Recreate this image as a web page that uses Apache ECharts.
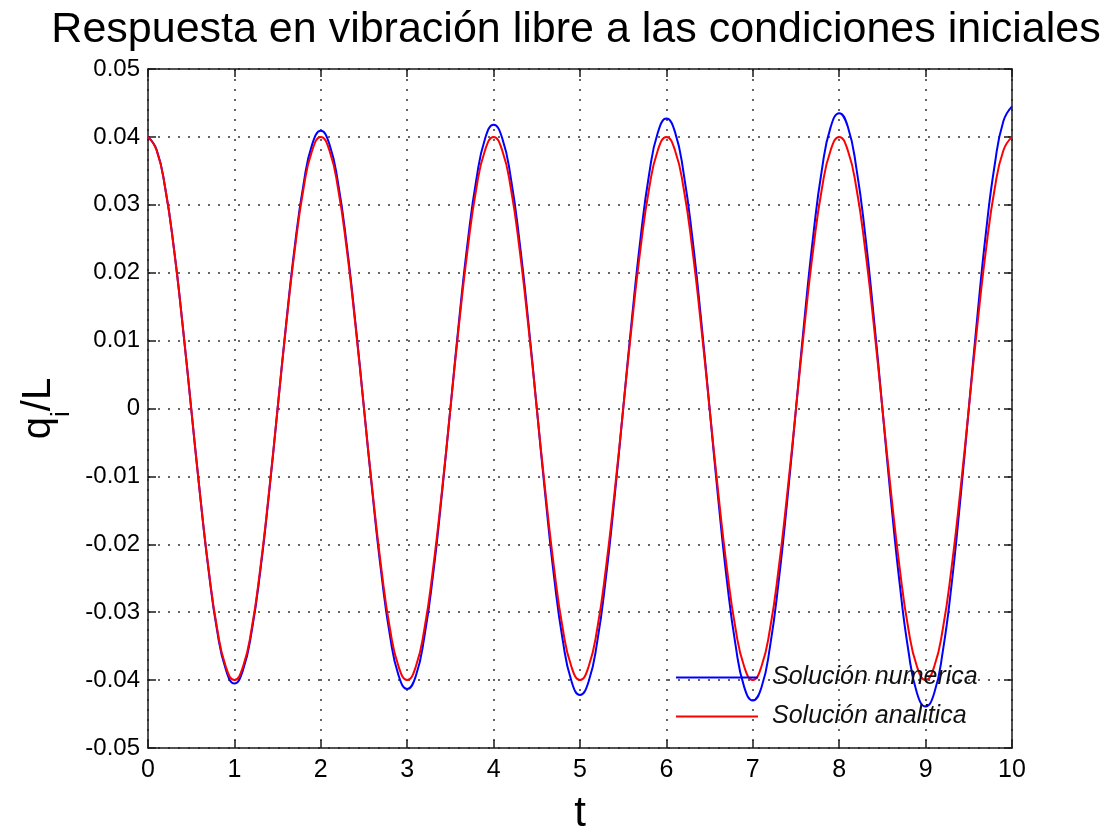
<!DOCTYPE html>
<html>
<head>
<meta charset="utf-8">
<title>Respuesta en vibración libre</title>
<script src="https://cdn.jsdelivr.net/npm/echarts@6/dist/echarts.min.js"></script>
<style>
  html, body { margin: 0; padding: 0; background: #fff; }
  #chart { width: 1111px; height: 832px; }
</style>
</head>
<body>
<div id="chart"></div>
<script>
// Sample times (s)
const t = [
  0.0, 0.1, 0.2, 0.3, 0.4, 0.5, 0.6, 0.7, 0.8, 0.9,
  1.0, 1.1, 1.2, 1.3, 1.4, 1.5, 1.6, 1.7, 1.8, 1.9,
  2.0, 2.1, 2.2, 2.3, 2.4, 2.5, 2.6, 2.7, 2.8, 2.9,
  3.0, 3.1, 3.2, 3.3, 3.4, 3.5, 3.6, 3.7, 3.8, 3.9,
  4.0, 4.1, 4.2, 4.3, 4.4, 4.5, 4.6, 4.7, 4.8, 4.9,
  5.0, 5.1, 5.2, 5.3, 5.4, 5.5, 5.6, 5.7, 5.8, 5.9,
  6.0, 6.1, 6.2, 6.3, 6.4, 6.5, 6.6, 6.7, 6.8, 6.9,
  7.0, 7.1, 7.2, 7.3, 7.4, 7.5, 7.6, 7.7, 7.8, 7.9,
  8.0, 8.1, 8.2, 8.3, 8.4, 8.5, 8.6, 8.7, 8.8, 8.9,
  9.0, 9.1, 9.2, 9.3, 9.4, 9.5, 9.6, 9.7, 9.8, 9.9,
  10.0
];

// Numerical solution q_i/L
const numerica = [
  0.0400, 0.0381, 0.0324, 0.0236, 0.0124, 0.0000, -0.0124, -0.0237, -0.0327, -0.0384,
  -0.0405, -0.0385, -0.0328, -0.0239, -0.0126, 0.0000, 0.0126, 0.0240, 0.0330, 0.0389,
  0.0409, 0.0389, 0.0332, 0.0241, 0.0127, 0.0000, -0.0127, -0.0242, -0.0334, -0.0393,
  -0.0413, -0.0394, -0.0335, -0.0244, -0.0128, 0.0000, 0.0129, 0.0245, 0.0337, 0.0397,
  0.0418, 0.0398, 0.0339, 0.0246, 0.0130, 0.0000, -0.0130, -0.0248, -0.0341, -0.0401,
  -0.0422, -0.0402, -0.0343, -0.0249, -0.0131, 0.0000, 0.0131, 0.0250, 0.0345, 0.0406,
  0.0427, 0.0407, 0.0346, 0.0252, 0.0133, 0.0000, -0.0133, -0.0253, -0.0348, -0.0410,
  -0.0430, -0.0411, -0.0350, -0.0254, -0.0134, 0.0000, 0.0134, 0.0255, 0.0352, 0.0414,
  0.0435, 0.0415, 0.0353, 0.0257, 0.0135, 0.0000, -0.0136, -0.0258, -0.0356, -0.0419,
  -0.0439, -0.0419, -0.0357, -0.0260, -0.0137, 0.0000, 0.0137, 0.0261, 0.0359, 0.0423,
  0.0445
];

// Analytical solution q_i/L
const analitica = [
  0.0400, 0.0380, 0.0324, 0.0235, 0.0124, 0.0000, -0.0124, -0.0235, -0.0324, -0.0380,
  -0.0400, -0.0380, -0.0324, -0.0235, -0.0124, 0.0000, 0.0124, 0.0235, 0.0324, 0.0380,
  0.0400, 0.0380, 0.0324, 0.0235, 0.0124, 0.0000, -0.0124, -0.0235, -0.0324, -0.0380,
  -0.0400, -0.0380, -0.0324, -0.0235, -0.0124, 0.0000, 0.0124, 0.0235, 0.0324, 0.0380,
  0.0400, 0.0380, 0.0324, 0.0235, 0.0124, 0.0000, -0.0124, -0.0235, -0.0324, -0.0380,
  -0.0400, -0.0380, -0.0324, -0.0235, -0.0124, 0.0000, 0.0124, 0.0235, 0.0324, 0.0380,
  0.0400, 0.0380, 0.0324, 0.0235, 0.0124, 0.0000, -0.0124, -0.0235, -0.0324, -0.0380,
  -0.0400, -0.0380, -0.0324, -0.0235, -0.0124, 0.0000, 0.0124, 0.0235, 0.0324, 0.0380,
  0.0400, 0.0380, 0.0324, 0.0235, 0.0124, 0.0000, -0.0124, -0.0235, -0.0324, -0.0380,
  -0.0400, -0.0380, -0.0324, -0.0235, -0.0124, 0.0000, 0.0124, 0.0235, 0.0324, 0.0380,
  0.0400
];

const seriesNames = ['Solución numerica', 'Solución analitica'];
const yTickLabels = ['-0.05', '-0.04', '-0.03', '-0.02', '-0.01', '0', '0.01', '0.02', '0.03', '0.04', '0.05'];
const xTickLabels = ['0', '1', '2', '3', '4', '5', '6', '7', '8', '9', '10'];

const FONT = '"Liberation Sans", Arial, Helvetica, sans-serif';
const frame = { show: true, onZero: false, lineStyle: { color: '#1a1a1a', width: 1.5 } };
const tick = { show: true, inside: true, length: 8, lineStyle: { color: '#1a1a1a', width: 1.5 } };
const gridDots = { show: true, lineStyle: { color: '#333', width: 1.5, type: [2, 8] } };

const pairs = (xs, ys) => xs.map((x, i) => [x, ys[i]]);

const chart = echarts.init(document.getElementById('chart'), null, { renderer: 'canvas' });
chart.setOption({
  animation: false,
  backgroundColor: '#fff',
  title: {
    text: 'Respuesta en vibración libre a las condiciones iniciales',
    left: 576,
    top: 9,
    padding: 0,
    textAlign: 'center',
    textStyle: { fontFamily: FONT, fontSize: 43, fontWeight: 'normal', color: '#000' }
  },
  grid: { left: 148, right: 99, top: 69, bottom: 84, containLabel: false, outerBoundsMode: 'none' },
  legend: {
    orient: 'vertical',
    left: 675,
    top: 665,
    padding: 0,
    itemWidth: 82,
    itemHeight: 14,
    itemGap: 14,
    data: seriesNames,
    itemStyle: { opacity: 0 },
    textStyle: { fontFamily: FONT, fontSize: 25, fontStyle: 'italic', color: '#111', padding: [0, 0, 0, 9] }
  },
  xAxis: [{
    type: 'value', position: 'bottom', min: 0, max: 10, interval: 1,
    axisLine: frame, axisTick: tick, splitLine: gridDots,
    axisLabel: {
      fontFamily: FONT, fontSize: 25, color: '#000', margin: 10,
      formatter: v => xTickLabels[Math.round(v)]
    },
    name: 't', nameLocation: 'middle', nameGap: 45,
    nameTextStyle: { fontFamily: FONT, fontSize: 42, color: '#000' }
  }, {
    type: 'value', position: 'top', min: 0, max: 10, interval: 1,
    axisLine: frame, axisTick: tick, splitLine: { show: false }, axisLabel: { show: false }
  }],
  yAxis: [{
    type: 'value', position: 'left', min: -0.05, max: 0.05, interval: 0.01,
    axisLine: frame, axisTick: tick, splitLine: gridDots,
    axisLabel: {
      fontFamily: FONT, fontSize: 24, color: '#000', margin: 8,
      formatter: v => yTickLabels[Math.round(v * 100) + 5]
    },
    name: '{q|q}{sub|i}{q|/L}', nameLocation: 'middle', nameGap: 82, nameRotate: 90,
    nameTextStyle: {
      fontFamily: FONT, color: '#000',
      rich: {
        q: { fontFamily: FONT, fontSize: 40, lineHeight: 44, verticalAlign: 'top', color: '#000' },
        sub: { fontFamily: FONT, fontSize: 26, lineHeight: 26, verticalAlign: 'top', padding: [29, 0, 0, 0], color: '#000' }
      }
    }
  }, {
    type: 'value', position: 'right', min: -0.05, max: 0.05, interval: 0.01,
    axisLine: frame, axisTick: tick, splitLine: { show: false }, axisLabel: { show: false }
  }],
  series: [{
    name: seriesNames[0], type: 'line', xAxisIndex: 0, yAxisIndex: 0,
    data: pairs(t, numerica), symbol: 'none', smooth: 0.5,
    lineStyle: { color: '#0000ff', width: 2 }, itemStyle: { color: '#0000ff' }
  }, {
    name: seriesNames[1], type: 'line', xAxisIndex: 0, yAxisIndex: 0,
    data: pairs(t, analitica), symbol: 'none', smooth: 0.5,
    lineStyle: { color: '#ff0000', width: 2 }, itemStyle: { color: '#ff0000' }
  }]
});
</script>
</body>
</html>
